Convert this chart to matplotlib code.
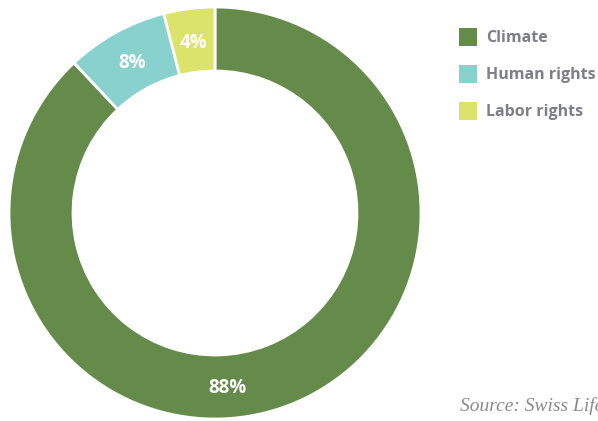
import numpy as np
import matplotlib
matplotlib.use("Agg")
import matplotlib.pyplot as plt
from matplotlib.patches import Rectangle

categories = ["Climate", "Human rights", "Labor rights"]
shares = [88, 8, 4]
colors = ["#658b4b", "#88d1cc", "#dbe36a"]

W, H = 598, 421
fig = plt.figure(figsize=(W / 100, H / 100), dpi=100)

# donut: centre (215, 213) px, outer radius 206 px
cx, cy, R = 215, 213, 206
ax = fig.add_axes([(cx - R) / W, (H - cy - R) / H, 2 * R / W, 2 * R / H])
ring = 1 - 142 / 206
wedges, _ = ax.pie(shares, colors=colors, startangle=90, counterclock=False,
                   radius=1, wedgeprops=dict(width=ring, edgecolor="white", linewidth=2))
ax.set_xlim(-1, 1)
ax.set_ylim(-1, 1)
ax.set_aspect("equal")
ax.axis("off")

# value labels sit in the ring; the big one goes near the bottom
for w, v in zip(wedges, shares):
    ang = (w.theta1 + w.theta2) / 2
    r_lab = 0.83
    if v > 50:
        ang, r_lab = -86, 0.85
    a = np.deg2rad(ang)
    ax.text(r_lab * np.cos(a), r_lab * np.sin(a), f"{v}%", ha="center", va="center",
            color="white", fontsize=13.5, fontweight="bold", family="Open Sans")

# legend
for i, (name, c) in enumerate(zip(categories, colors)):
    y = 37 + i * 37
    fig.patches.append(Rectangle((459 / W, 1 - (y + 9) / H), 18 / W, 18 / H,
                                 transform=fig.transFigure, facecolor=c, edgecolor="none"))
    fig.text(486 / W, 1 - (y + 1) / H, name, ha="left", va="center", color="#7e7e86",
             fontsize=11.5, fontweight="bold", family="Open Sans")

# source note runs off the right edge of the canvas
fig.text(460 / W, 1 - 406 / H, "Source: Swiss Life", ha="left", va="center",
         color="#8a8a8a", fontsize=14, style="italic", family="Liberation Serif")

fig.savefig("out.png", dpi=100)
